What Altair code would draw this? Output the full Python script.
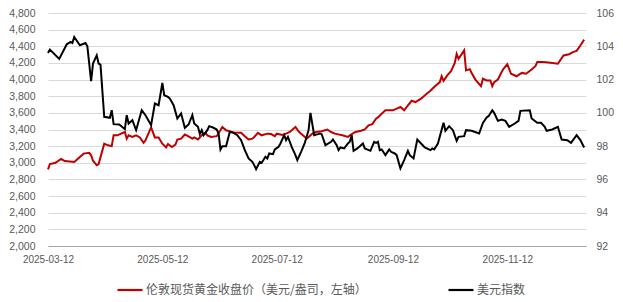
import altair as alt
import pandas as pd

GOLD_NAME = "伦敦现货黄金收盘价（美元/盎司，左轴）"
USD_NAME = "美元指数"

gold_dates = [
    "2025-03-12", "2025-03-13", "2025-03-16", "2025-03-19", "2025-03-21", "2025-03-26",
    "2025-03-29", "2025-03-31", "2025-04-03", "2025-04-04", "2025-04-05", "2025-04-07",
    "2025-04-08", "2025-04-11", "2025-04-13", "2025-04-15", "2025-04-16", "2025-04-18",
    "2025-04-22", "2025-04-23", "2025-04-24", "2025-04-26", "2025-04-28", "2025-04-30",
    "2025-05-02", "2025-05-03", "2025-05-06", "2025-05-08", "2025-05-10", "2025-05-12",
    "2025-05-14", "2025-05-15", "2025-05-17", "2025-05-19", "2025-05-20", "2025-05-22",
    "2025-05-24", "2025-05-25", "2025-05-28", "2025-05-29", "2025-05-31", "2025-06-02",
    "2025-06-04", "2025-06-05", "2025-06-07", "2025-06-10", "2025-06-13", "2025-06-15",
    "2025-06-19", "2025-06-23", "2025-06-25", "2025-06-27", "2025-06-29", "2025-06-30",
    "2025-07-02", "2025-07-04", "2025-07-07", "2025-07-09", "2025-07-11", "2025-07-12",
    "2025-07-15", "2025-07-17", "2025-07-19", "2025-07-22", "2025-07-24", "2025-07-26",
    "2025-07-28", "2025-07-31", "2025-08-02", "2025-08-05", "2025-08-08", "2025-08-10",
    "2025-08-12", "2025-08-16", "2025-08-19", "2025-08-20", "2025-08-23", "2025-08-26",
    "2025-08-28", "2025-08-30", "2025-09-01", "2025-09-03", "2025-09-04", "2025-09-06",
    "2025-09-08", "2025-09-12", "2025-09-14", "2025-09-16", "2025-09-18", "2025-09-20",
    "2025-09-22", "2025-09-24", "2025-09-27", "2025-09-30", "2025-10-02", "2025-10-04",
    "2025-10-07", "2025-10-08", "2025-10-09", "2025-10-11", "2025-10-13", "2025-10-15",
    "2025-10-16", "2025-10-17", "2025-10-20", "2025-10-21", "2025-10-23", "2025-10-24",
    "2025-10-26", "2025-10-29", "2025-10-30", "2025-11-01", "2025-11-03", "2025-11-04",
    "2025-11-05", "2025-11-07", "2025-11-09", "2025-11-10", "2025-11-12", "2025-11-14",
    "2025-11-17", "2025-11-19", "2025-11-20", "2025-11-22", "2025-11-25", "2025-11-27",
    "2025-11-28", "2025-12-01", "2025-12-04", "2025-12-09", "2025-12-12", "2025-12-15",
    "2025-12-17", "2025-12-19", "2025-12-21", "2025-12-23",
]
gold_values = [
    2920, 2985, 3000, 3045, 3020, 3010,
    3070, 3110, 3120, 3090, 3025, 2970,
    2985, 3230, 3210, 3200, 3330, 3330,
    3370, 3290, 3330, 3310, 3330, 3305,
    3240, 3270, 3425, 3305, 3305, 3230,
    3185, 3225, 3190, 3220, 3280, 3290,
    3340, 3330, 3290, 3305, 3280, 3330,
    3360, 3330, 3310, 3320, 3430, 3390,
    3365, 3360, 3320, 3280, 3290, 3310,
    3360, 3330, 3350, 3345, 3320, 3350,
    3335, 3350, 3370, 3430, 3370, 3330,
    3290, 3350, 3370, 3380, 3400, 3370,
    3350, 3330, 3310, 3330, 3370, 3385,
    3400, 3450, 3465, 3530, 3545, 3590,
    3630, 3630, 3650, 3670, 3630, 3690,
    3745, 3730, 3770, 3830, 3865, 3910,
    3970, 4040, 3985, 4050, 4100, 4200,
    4310, 4250, 4350, 4110, 4125, 4080,
    4000, 3920, 4010, 3990, 3990, 3920,
    3970, 4000, 4090, 4130, 4185, 4070,
    4040, 4070, 4080, 4070, 4120, 4160,
    4210, 4210, 4205, 4190, 4290, 4305,
    4330, 4345, 4410, 4480,
]

usd_dates = [
    "2025-03-12", "2025-03-13", "2025-03-18", "2025-03-22", "2025-03-24", "2025-03-25",
    "2025-03-26", "2025-03-29", "2025-04-01", "2025-04-02", "2025-04-04", "2025-04-05",
    "2025-04-07", "2025-04-08", "2025-04-09", "2025-04-11", "2025-04-14", "2025-04-15",
    "2025-04-16", "2025-04-19", "2025-04-22", "2025-04-23", "2025-04-24", "2025-04-26",
    "2025-04-28", "2025-05-01", "2025-05-03", "2025-05-06", "2025-05-08", "2025-05-10",
    "2025-05-12", "2025-05-13", "2025-05-15", "2025-05-16", "2025-05-18", "2025-05-20",
    "2025-05-22", "2025-05-24", "2025-05-26", "2025-05-28", "2025-05-29", "2025-05-31",
    "2025-06-01", "2025-06-02", "2025-06-03", "2025-06-05", "2025-06-06", "2025-06-08",
    "2025-06-10", "2025-06-11", "2025-06-12", "2025-06-13", "2025-06-15", "2025-06-17",
    "2025-06-19", "2025-06-21", "2025-06-23", "2025-06-25", "2025-06-27", "2025-06-29",
    "2025-06-30", "2025-07-01", "2025-07-03", "2025-07-04", "2025-07-06", "2025-07-07",
    "2025-07-08", "2025-07-10", "2025-07-11", "2025-07-13", "2025-07-14", "2025-07-16",
    "2025-07-17", "2025-07-18", "2025-07-20", "2025-07-22", "2025-07-23", "2025-07-25",
    "2025-07-27", "2025-07-29", "2025-07-30", "2025-08-01", "2025-08-03", "2025-08-04",
    "2025-08-05", "2025-08-07", "2025-08-10", "2025-08-11", "2025-08-13", "2025-08-14",
    "2025-08-15", "2025-08-17", "2025-08-19", "2025-08-20", "2025-08-21", "2025-08-22",
    "2025-08-24", "2025-08-27", "2025-08-28", "2025-08-31", "2025-09-02", "2025-09-03",
    "2025-09-04", "2025-09-05", "2025-09-06", "2025-09-08", "2025-09-10", "2025-09-11",
    "2025-09-13", "2025-09-14", "2025-09-16", "2025-09-18", "2025-09-20", "2025-09-21",
    "2025-09-23", "2025-09-25", "2025-09-27", "2025-09-29", "2025-10-02", "2025-10-03",
    "2025-10-04", "2025-10-06", "2025-10-09", "2025-10-10", "2025-10-12", "2025-10-14",
    "2025-10-16", "2025-10-17", "2025-10-20", "2025-10-21", "2025-10-24", "2025-10-28",
    "2025-10-30", "2025-11-01", "2025-11-02", "2025-11-04", "2025-11-05", "2025-11-07",
    "2025-11-09", "2025-11-11", "2025-11-13", "2025-11-16", "2025-11-18", "2025-11-19",
    "2025-11-24", "2025-11-25", "2025-11-28", "2025-11-30", "2025-12-02", "2025-12-03",
    "2025-12-06", "2025-12-09", "2025-12-11", "2025-12-14", "2025-12-16", "2025-12-19",
    "2025-12-21", "2025-12-23",
]
usd_values = [
    103.60, 103.80, 103.24, 104.12, 104.26, 104.20,
    104.56, 104.06, 104.20, 104.00, 101.90, 102.96,
    103.46, 102.96, 102.90, 99.76, 99.70, 100.16,
    99.32, 99.30, 99.02, 99.86, 99.36, 99.56,
    98.96, 100.16, 99.86, 99.26, 100.56, 100.46,
    101.80, 101.06, 100.96, 100.86, 100.46, 99.66,
    99.96, 99.10, 99.30, 99.86, 99.36, 99.16,
    98.72, 98.96, 98.66, 98.96, 99.20, 99.12,
    99.00, 98.76, 97.80, 98.00, 98.00, 98.86,
    98.80, 98.66, 98.36, 97.76, 97.26, 97.06,
    96.86, 96.62, 97.06, 97.00, 97.36, 97.26,
    97.56, 97.52, 97.80, 97.96, 98.16, 98.66,
    98.36, 98.56, 97.96, 97.46, 97.16, 97.66,
    98.20, 98.96, 100.00, 98.66, 98.72, 98.76,
    98.72, 98.06, 98.26, 98.40, 98.06, 97.76,
    97.92, 97.86, 98.16, 98.26, 98.66, 97.72,
    97.86, 98.16, 97.86, 97.72, 98.26, 98.20,
    98.26, 97.76, 97.80, 97.46, 97.80, 97.66,
    97.56, 97.46, 96.66, 97.16, 97.72, 97.46,
    97.26, 98.40, 98.16, 97.92, 97.76, 97.86,
    97.80, 98.16, 99.40, 98.92, 99.20, 98.96,
    98.32, 98.56, 98.60, 98.96, 98.92, 98.76,
    99.40, 99.72, 99.80, 100.16, 100.00, 99.52,
    99.60, 99.52, 99.16, 99.36, 99.52, 100.12,
    100.16, 99.66, 99.40, 99.40, 99.16, 98.92,
    99.00, 99.16, 98.40, 98.36, 98.20, 98.66,
    98.36, 97.92,
]

left_ticks = [2000, 2200, 2400, 2600, 2800, 3000, 3200, 3400, 3600, 3800, 4000, 4200, 4400, 4600, 4800]
right_ticks = [92, 94, 96, 98, 100, 102, 104, 106]
x_tick_months = [3, 5, 7, 9, 11]
x_tick_day = 12

gold_df = pd.DataFrame({"date": gold_dates, "value": gold_values, "series": GOLD_NAME})
usd_df = pd.DataFrame({"date": usd_dates, "value": usd_values, "series": USD_NAME})

x_ticks = [alt.DateTime(year=2025, month=m, date=x_tick_day, utc=True) for m in x_tick_months]
x_domain = [alt.DateTime(year=2025, month=3, date=12, utc=True),
            alt.DateTime(year=2025, month=12, date=24, utc=True)]

LABEL_FONT = "Liberation Sans"
LABEL_COLOR = "#595959"

x_enc = alt.X(
    "date:T",
    scale=alt.Scale(type="utc", domain=x_domain),
    axis=alt.Axis(
        values=x_ticks, labelExpr="utcFormat(datum.value, '%Y-%m-%d')", title=None,
        grid=False, ticks=False, tickSize=0, labelPadding=8, labelFlush=False,
        labelOverlap=False, domainColor="#A6A6A6", domainWidth=1,
        labelFont=LABEL_FONT, labelFontSize=10, labelColor=LABEL_COLOR,
    ),
)

color_enc = alt.Color(
    "series:N",
    scale=alt.Scale(domain=[GOLD_NAME, USD_NAME], range=["#C00000", "#000000"]),
    legend=alt.Legend(
        title=None, orient="none", direction="horizontal", legendX=68, legendY=263,
        symbolType="stroke", symbolSize=625, symbolStrokeWidth=2.2, labelOffset=2,
        columnPadding=77, labelLimit=400, padding=0,
        labelFont="Noto Sans CJK SC", labelFontSize=12, labelColor=LABEL_COLOR,
    ),
)

gold = alt.Chart(gold_df).mark_line(strokeWidth=2, interpolate="linear").encode(
    x=x_enc,
    y=alt.Y(
        "value:Q",
        scale=alt.Scale(domain=[2000, 4800], nice=False, zero=False),
        axis=alt.Axis(
            orient="left", values=left_ticks, labelExpr="format(datum.value, ',')",
            title=None, grid=True, gridColor="#D9D9D9", gridWidth=1, domain=False,
            ticks=False, tickSize=0, labelPadding=13,
            labelFont=LABEL_FONT, labelFontSize=10.5, labelColor=LABEL_COLOR,
        ),
    ),
    color=color_enc,
)

usd = alt.Chart(usd_df).mark_line(strokeWidth=2, interpolate="linear").encode(
    x=x_enc,
    y=alt.Y(
        "value:Q",
        scale=alt.Scale(domain=[92, 106], nice=False, zero=False),
        axis=alt.Axis(
            orient="right", values=right_ticks, labelExpr="format(datum.value, 'd')",
            title=None, grid=False, domain=False, ticks=False, tickSize=0, labelPadding=10,
            labelFont=LABEL_FONT, labelFontSize=10.5, labelColor=LABEL_COLOR,
        ),
    ),
    color=color_enc,
)

chart = (
    alt.layer(gold, usd)
    .resolve_scale(y="independent")
    .properties(
        width=538, height=233,
        padding={"left": 48, "top": 13, "right": 37, "bottom": 56},
        autosize=alt.AutoSizeParams(type="none"),
        background="#FFFFFF",
    )
    .configure_view(strokeWidth=0)
)

chart.save("out.html", embed_options={"renderer": "svg", "actions": False})
